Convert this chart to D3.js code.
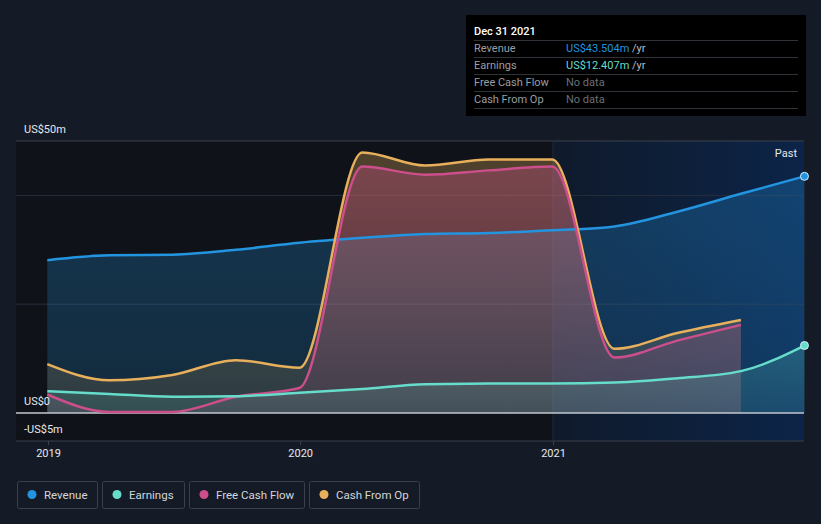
<!DOCTYPE html>
<html><head><meta charset="utf-8">
<script src="https://cdn.jsdelivr.net/npm/d3@7"></script>
<style>
html,body{margin:0;padding:0;background:#151b26;}
svg{display:block;font-family:Roboto,"Noto Sans",sans-serif;}
</style></head>
<body>
<svg id="chart" width="821" height="524"></svg>
<script>
const dates = ["2018-12-31","2019-03-31","2019-06-30","2019-09-30","2019-12-31","2020-03-31","2020-06-30","2020-09-30","2020-12-31","2021-03-31","2021-06-30","2021-09-30","2021-12-31"];
const revenue = [28.1, 29.0, 29.1, 30.0, 31.3, 32.2, 32.9, 33.1, 33.6, 34.3, 37.0, 40.3, 43.504];
const earnings = [4.0, 3.5, 3.0, 3.1, 3.7, 4.4, 5.3, 5.4, 5.4, 5.6, 6.4, 7.7, 12.407];
const freeCashFlow = [3.4, 0.2, 0.2, 3.0, 4.6, 45.3, 43.8, 44.6, 45.3, 10.2, 13.3, 16.2];
const cashFromOp = [9.0, 6.0, 7.0, 9.7, 8.3, 47.9, 45.5, 46.6, 46.6, 11.8, 14.7, 17.1];
const yTickValues = [50, 0, -5];
const yTickLabels = ["US$50m", "US$0", "-US$5m"];
const gridValues = [40, 20];
const xTickDates = ["2019-01-01","2020-01-01","2021-01-01"];
const xTickLabels = ["2019","2020","2021"];
const legendNames = ["Revenue","Earnings","Free Cash Flow","Cash From Op"];
const legendColors = ["#2394df","#66dccb","#cc4f8b","#e8b05c"];

const svg = d3.select("#chart");
const parse = d3.timeParse("%Y-%m-%d");
const pL = 16, pR = 804, pT = 141, pB = 441;
const x = d3.scaleTime().domain([parse("2019-01-01"), parse("2021-01-01")]).range([48, 553]);
const y = d3.scaleLinear().domain([0, 50]).range([413, 141]);
const pastStart = x(parse("2021-01-01"));

const defs = svg.append("defs");
const pg = defs.append("linearGradient").attr("id","pastbg").attr("x1","0").attr("x2","1").attr("y1","0").attr("y2","0");
pg.append("stop").attr("offset","0").attr("stop-color","#0f1a2b");
pg.append("stop").attr("offset","1").attr("stop-color","#0c2448");

// plot backgrounds
svg.append("rect").attr("x",pL).attr("y",pT).attr("width",pastStart-pL).attr("height",pB-pT).attr("fill","#0f1319");
svg.append("rect").attr("x",pastStart).attr("y",pT).attr("width",pR-pastStart).attr("height",pB-pT).attr("fill","url(#pastbg)");

// gridlines
svg.selectAll(".grid").data(gridValues).enter().append("line")
  .attr("x1",pL).attr("x2",pR).attr("y1",d=>y(d)).attr("y2",d=>y(d))
  .attr("stroke","#262d3a").attr("stroke-width",1);
svg.append("line").attr("x1",pL).attr("x2",pR).attr("y1",y(50)).attr("y2",y(50)).attr("stroke","#3a404c").attr("stroke-width",1);
svg.append("line").attr("x1",pastStart).attr("x2",pastStart).attr("y1",pT).attr("y2",pB).attr("stroke","#202838").attr("stroke-width",1);

const series = [
  {name:"Revenue", vals:revenue, color:legendColors[0], op0:0.28, op1:0.18},
  {name:"Cash From Op", vals:cashFromOp, color:legendColors[3], op0:0.3, op1:0.12},
  {name:"Free Cash Flow", vals:freeCashFlow, color:legendColors[2], op0:0.35, op1:0.12},
  {name:"Earnings", vals:earnings, color:legendColors[1], op0:0.22, op1:0.12}
];
series.forEach((s,i)=>{
  const g = defs.append("linearGradient").attr("id","g"+i).attr("x1","0").attr("x2","0").attr("y1","0").attr("y2","1");
  g.append("stop").attr("offset","0").attr("stop-color",s.color).attr("stop-opacity",s.op0);
  g.append("stop").attr("offset","1").attr("stop-color",s.color).attr("stop-opacity",s.op1);
  s.data = s.vals.map((v,j)=>({d:parse(dates[j]), v}));
});

const area = d3.area().x(d=>x(d.d)).y0(y(0)).y1(d=>y(d.v)).curve(d3.curveMonotoneX);
const line = d3.line().x(d=>x(d.d)).y(d=>y(d.v)).curve(d3.curveMonotoneX);

series.forEach((s,i)=>{
  svg.append("path").datum(s.data).attr("d",area).attr("fill","url(#g"+i+")");
});
// zero line
svg.append("line").attr("x1",pL).attr("x2",pR).attr("y1",y(0)).attr("y2",y(0)).attr("stroke","#c3c7cf").attr("stroke-width",1.5);

series.forEach((s,i)=>{
  svg.append("path").datum(s.data).attr("d",line).attr("fill","none").attr("stroke",s.color).attr("stroke-width",2.5);
});
[series[0],series[3]].forEach(s=>{
  const last = s.data[s.data.length-1];
  svg.append("circle").attr("cx",x(last.d)).attr("cy",y(last.v)).attr("r",4)
    .attr("fill",s.color).attr("stroke","#d8eefc").attr("stroke-width",1);
});

// bottom axis
svg.append("line").attr("x1",pL).attr("x2",pR).attr("y1",pB).attr("y2",pB).attr("stroke","#3a404c").attr("stroke-width",1);
const xAxis = d3.axisBottom(x).tickValues(xTickDates.map(parse)).tickFormat((d,i)=>xTickLabels[i]).tickSize(4).tickPadding(4);
const xg = svg.append("g").attr("transform",`translate(0,${pB})`).call(xAxis);
xg.select(".domain").remove();
xg.selectAll(".tick line").attr("stroke","#3a404c");
xg.selectAll(".tick text").attr("fill","#e6e8ec").attr("font-size",11).attr("font-family","Roboto,sans-serif");

// y labels
svg.selectAll(".ylab").data(yTickValues).enter().append("text")
  .attr("x",24).attr("y",(d,i)=> d===-5 ? y(d)-7 : y(d)-8)
  .attr("fill","#e6e8ec").attr("font-size",11)
  .text((d,i)=>yTickLabels[i]);

svg.append("text").attr("x",797).attr("y",157).attr("text-anchor","end").attr("fill","#e6e8ec").attr("font-size",11).text("Past");

// tooltip
const tip = svg.append("g");
tip.append("rect").attr("x",466).attr("y",15).attr("width",340).attr("height",101).attr("fill","#000");
tip.append("text").attr("x",474).attr("y",35).attr("fill","#ffffff").attr("font-size",11).attr("font-weight",500).text("Dec 31 2021");
const rows = [
  {l:"Revenue", v:"US$43.504m", c:"#2394df", u:" /yr"},
  {l:"Earnings", v:"US$12.407m", c:"#66dccb", u:" /yr"},
  {l:"Free Cash Flow", v:"No data", c:"#6b6e74", u:""},
  {l:"Cash From Op", v:"No data", c:"#6b6e74", u:""}
];
rows.forEach((r,i)=>{
  const yy = 40 + i*17;
  tip.append("line").attr("x1",474).attr("x2",798).attr("y1",yy+0.5).attr("y2",yy+0.5).attr("stroke","#2f3238");
  tip.append("text").attr("x",474).attr("y",yy+12).attr("fill","#9a9da3").attr("font-size",11).text(r.l);
  const t = tip.append("text").attr("x",566).attr("y",yy+12).attr("font-size",11);
  t.append("tspan").attr("fill",r.c).text(r.v);
  if(r.u) t.append("tspan").attr("fill","#b9bcc2").text(r.u);
});
tip.append("line").attr("x1",474).attr("x2",798).attr("y1",108.5).attr("y2",108.5).attr("stroke","#2f3238");

// legend
const boxes = [[17,80],[102,82],[189,115],[309,110]];
legendNames.forEach((n,i)=>{
  const g = svg.append("g");
  g.append("rect").attr("x",boxes[i][0]+0.5).attr("y",481.5).attr("width",boxes[i][1]).attr("height",27).attr("rx",2)
    .attr("fill","none").attr("stroke","#3b404b");
  g.append("circle").attr("cx",boxes[i][0]+15).attr("cy",494.5).attr("r",4.5).attr("fill",legendColors[i]);
  g.append("text").attr("x",boxes[i][0]+27).attr("y",498.5).attr("fill","#d3d6db").attr("font-size",11.5).text(n);
});
</script>
</body></html>
